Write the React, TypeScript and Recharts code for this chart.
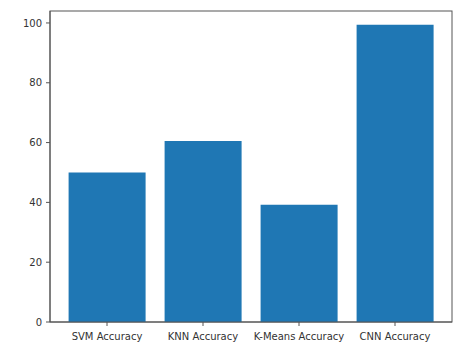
import { BarChart, Bar, XAxis, YAxis, usePlotArea } from 'recharts';

const categories = ['SVM Accuracy', 'KNN Accuracy', 'K-Means Accuracy', 'CNN Accuracy'];
const accuracy = [50, 60.5, 39.2, 99.4];
const yTicks = [0, 20, 40, 60, 80, 100];

const data = categories.map((name, i) => ({ name, accuracy: accuracy[i] }));

const tickStyle = { fontSize: 10, fill: '#333', fontFamily: 'DejaVu Sans' };
const spine = { stroke: '#555', strokeWidth: 1 };

// matplotlib-style box around the plot area
const Frame = () => {
    const area = usePlotArea();
    if (!area) return null;
    return (
        <rect x={area.x} y={area.y} width={area.width} height={area.height} fill="none" stroke="#555" strokeWidth={1} />
    );
};

const App = () => {
    return (
        <BarChart
            width={460}
            height={346}
            data={data}
            margin={{ top: 3, right: 16, bottom: 0, left: 0 }}
            barCategoryGap="10%"
        >
            <XAxis
                dataKey="name"
                padding={{ left: 9, right: 9 }}
                height={32}
                tick={tickStyle}
                tickSize={4}
                tickMargin={7}
                axisLine={spine}
                tickLine={{ stroke: '#555' }}
                interval={0}
            />
            <YAxis
                type="number"
                domain={[0, 104]}
                ticks={yTicks}
                width={42}
                tick={tickStyle}
                tickSize={4}
                tickMargin={4}
                axisLine={spine}
                tickLine={{ stroke: '#555' }}
            />
            <Bar dataKey="accuracy" fill="#1f77b4" isAnimationActive={false} />
            <Frame />
        </BarChart>
    );
};

export default App;
